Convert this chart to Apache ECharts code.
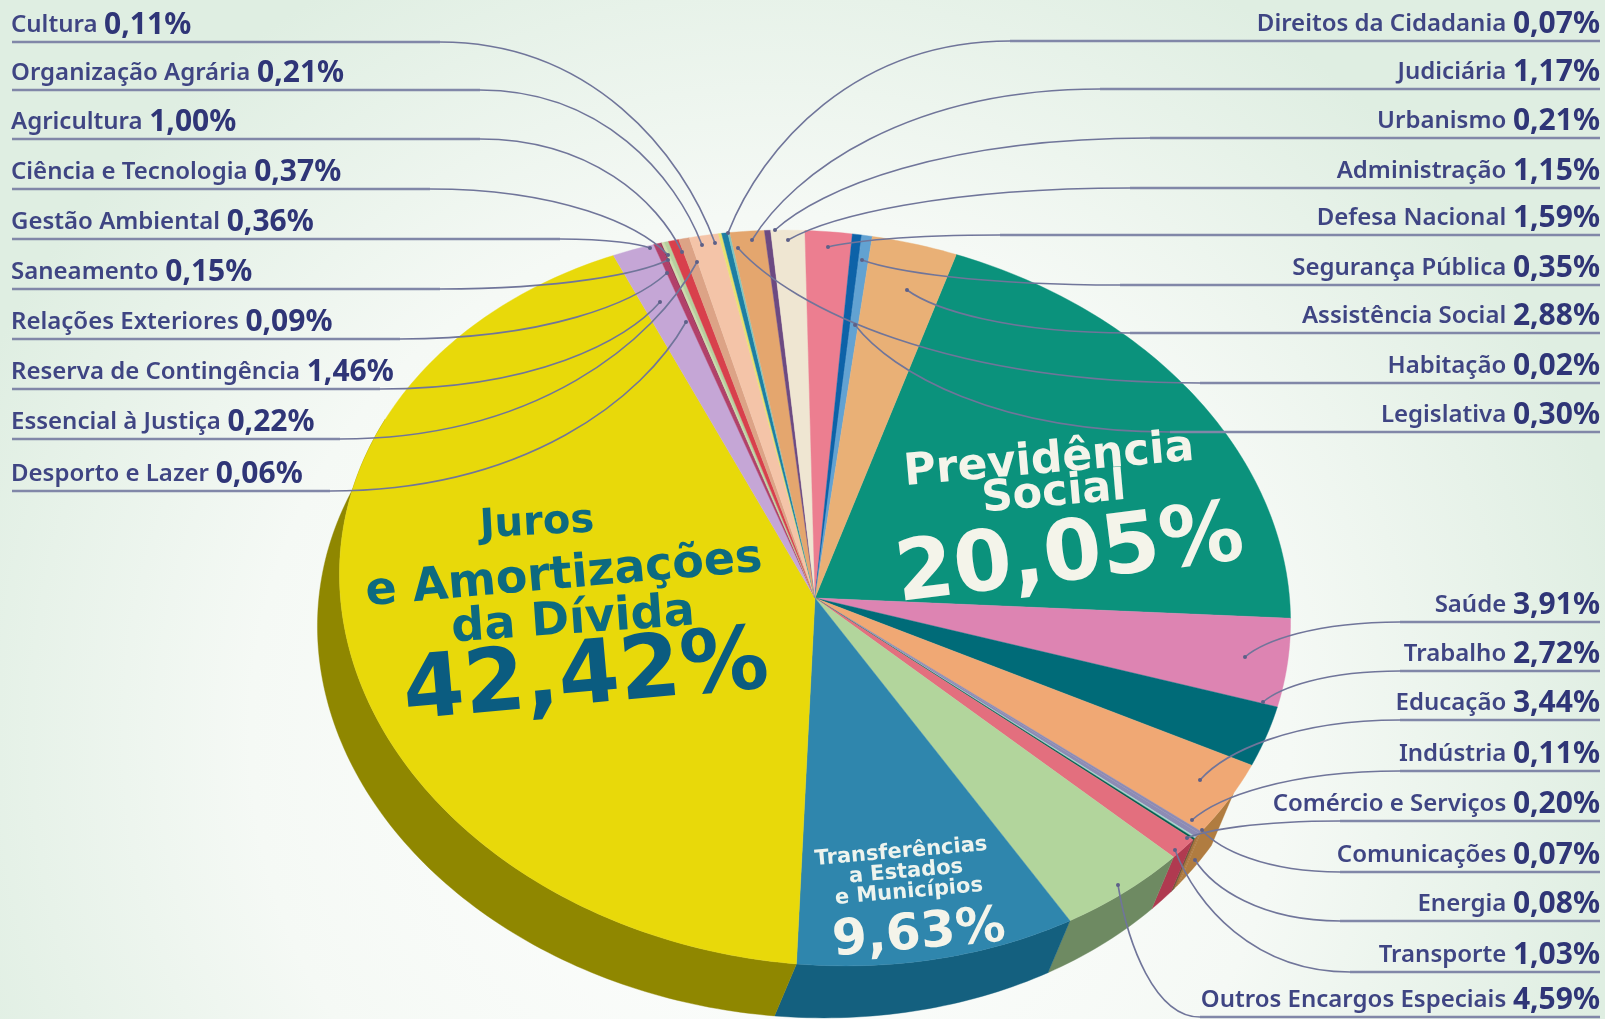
<!DOCTYPE html>
<html>
<head>
<meta charset="utf-8">
<title>Orçamento</title>
<style>
  html, body { margin: 0; padding: 0; background: #fff; }
  #chart { width: 1605px; height: 1019px; }
</style>
<script src="https://cdn.jsdelivr.net/npm/echarts@6/dist/echarts.min.js"></script>
</head>
<body>
<div id="chart"></div>
<script>
// slices, clockwise starting at Previdencia
const categories = ['Previdência Social', 'Saúde', 'Trabalho', 'Educação', 'Indústria', 'Comércio e Serviços',
  'Comunicações', 'Energia', 'Transporte', 'Outros Encargos Especiais', 'Transferências', 'Juros',
  'Reserva de Contingência', 'Essencial à Justiça', 'Desporto e Lazer', 'Relações Exteriores', 'Saneamento',
  'Gestão Ambiental', 'Ciência e Tecnologia', 'Agricultura', 'Cultura', 'Organização Agrária',
  'Direitos da Cidadania', 'Judiciária', 'Urbanismo', 'Administração', 'Defesa Nacional', 'Legislativa',
  'Habitação', 'Segurança Pública', 'Assistência Social'];
const values = [20.05, 3.91, 2.72, 3.44, 0.11, 0.20, 0.07, 0.08, 1.03, 4.59, 9.63, 42.42,
  1.46, 0.22, 0.06, 0.09, 0.15, 0.36, 0.37, 1.00, 0.11, 0.21, 0.07, 1.17, 0.21, 1.15, 1.59, 0.30, 0.02, 0.35, 2.88];
const sliceColors = ['#0b927c', '#dd84b2', '#006b78', '#f0a874', '#8d8bb4', '#8d8bb4', '#a5d2cc', '#00604f',
  '#e36f7e', '#b2d59c', '#2f86ad', '#e8d90a', '#c5a6d6', '#b2406a', '#9c3358', '#cfdcae', '#b7cf9e', '#d8404c',
  '#dca386', '#f4c4a8', '#e8e070', '#1c7ea3', '#82c6c0', '#e4a66e', '#6c4a82', '#efe6d2', '#ec7e90', '#0d62a8',
  '#0d62a8', '#62a2d2', '#e9b076'];
const wallColors = ['#075f50', '#8c4f70', '#004650', '#b07c40', '#b07c40', '#a8743c', '#806038', '#5c4a30',
  '#b03a50', '#6e8a62', '#14607f', '#8f8700', '#6a5878', '#6a2a40', '#6a2a40', '#707a50', '#707a50', '#80252c',
  '#80604c', '#907060', '#80803c', '#0c4a60', '#4c7470', '#80603c', '#3c2a48', '#807a70', '#804650', '#083a60',
  '#083a60', '#3a6078', '#806038'];

// label columns, top to bottom
const leftLabels = ['Cultura', 'Organização Agrária', 'Agricultura', 'Ciência e Tecnologia', 'Gestão Ambiental',
  'Saneamento', 'Relações Exteriores', 'Reserva de Contingência', 'Essencial à Justiça', 'Desporto e Lazer'];
const rightLabels = ['Direitos da Cidadania', 'Judiciária', 'Urbanismo', 'Administração', 'Defesa Nacional',
  'Segurança Pública', 'Assistência Social', 'Habitação', 'Legislativa', 'Saúde', 'Trabalho', 'Educação', 'Indústria',
  'Comércio e Serviços', 'Comunicações', 'Energia', 'Transporte', 'Outros Encargos Especiais'];

// layout only: rule y, where the rule starts to bend, and where the leader lands (px)
const leftRuleY = [42, 90, 139, 189, 239, 289, 339, 389, 439, 491];
const leftTurnX = [440, 480, 480, 430, 560, 440, 400, 380, 340, 330];
const leftEnds = [[715, 243], [702, 245], [682, 252], [668, 255], [650, 248], [668, 260], [667, 273], [660, 302], [697, 262], [686, 322]];
const rightRuleY = [41, 89, 138, 188, 235, 285, 333, 383, 432, 622, 671, 720, 771, 821, 872, 921, 972, 1017];
const rightTurnX = [1010, 1100, 1150, 1130, 1000, 1120, 1130, 1200, 1170, 1400, 1400, 1400, 1400, 1340, 1340, 1340, 1350, 1200];
const rightEnds = [[728, 233], [752, 240], [775, 230], [788, 240], [828, 247], [862, 260], [907, 290], [738, 248], [855, 325],
  [1245, 657], [1263, 702], [1200, 780], [1192, 820], [1187, 838], [1202, 830], [1195, 860], [1175, 850], [1118, 885]];

const startAngle = 11.9;   // degrees clockwise from top, where Previdencia starts
const tilt = 7 * Math.PI / 180;
const wallShift = [-22, 52];
const wallFrom = 113, wallTo = 290;
const total = values.reduce((a, b) => a + b, 0);

function fmt(name) {
  return values[categories.indexOf(name)].toFixed(2).replace('.', ',') + '%';
}

function sliceRange(i) {
  let from = startAngle;
  for (let k = 0; k < i; k++) from += values[k] / total * 360;
  return [from, from + values[i] / total * 360];
}

// point on the disc through the hidden axes, then tilted round the centre
function project(api, deg, r) {
  const t = deg * Math.PI / 180;
  const c = api.coord([0, 0]);
  const p = api.coord([r * Math.sin(t), r * Math.cos(t)]);
  const dx = p[0] - c[0], dy = p[1] - c[1];
  return [c[0] + dx * Math.cos(tilt) - dy * Math.sin(tilt), c[1] + dx * Math.sin(tilt) + dy * Math.cos(tilt)];
}

function renderTop(params, api) {
  const i = params.dataIndex;
  const [a, b] = sliceRange(i);
  const pts = [project(api, 0, 0)];
  const steps = Math.max(2, Math.ceil(b - a));
  for (let s = 0; s <= steps; s++) pts.push(project(api, a + (b - a) * s / steps, 1));
  return {
    type: 'polygon',
    shape: { points: pts },
    style: { fill: sliceColors[i], stroke: sliceColors[i], lineWidth: 0.4 }
  };
}

function renderWall(params, api) {
  const i = params.dataIndex;
  const [ra, rb] = sliceRange(i);
  let a = Math.max(ra, wallFrom), b = Math.min(rb, wallTo);
  if (a >= b) return null;
  const steps = Math.max(2, Math.ceil(b - a));
  const top = [], low = [];
  for (let s = 0; s <= steps; s++) {
    const p = project(api, a + (b - a) * s / steps, 1);
    top.push(p);
    low.unshift([p[0] + wallShift[0], p[1] + wallShift[1]]);
  }
  return {
    type: 'polygon',
    shape: { points: top.concat(low) },
    style: { fill: wallColors[i], stroke: wallColors[i], lineWidth: 0.4 }
  };
}

const textRich = {
  n: { fontFamily: 'Noto Sans', fontSize: 24, fontWeight: 600, fill: '#3f4583' },
  v: { fontFamily: 'Noto Sans', fontSize: 30, fontWeight: 700, fill: '#2f3577' }
};

function leaderItem(name, ruleY, turnX, end, side) {
  const edge = side === 'left' ? 12 : 1600;
  const dx = end[0] - turnX;
  return {
    type: 'group',
    children: [
      { type: 'line', shape: { x1: edge, y1: ruleY, x2: turnX, y2: ruleY }, style: { stroke: '#8187a8', lineWidth: 2.6 } },
      {
        type: 'bezierCurve',
        shape: {
          x1: turnX, y1: ruleY,
          cpx1: turnX + dx * 0.55, cpy1: ruleY,
          cpx2: end[0] - dx * 0.12, cpy2: end[1] + (ruleY - end[1]) * 0.45,
          x2: end[0], y2: end[1]
        },
        style: { stroke: '#70759a', lineWidth: 1.6, fill: null }
      },
      { type: 'circle', shape: { cx: end[0], cy: end[1], r: 2 }, style: { fill: '#5d6088' } },
      {
        type: 'text',
        style: {
          x: side === 'left' ? 11 : 1600,
          y: ruleY - 17,
          align: side,
          verticalAlign: 'middle',
          text: '{n|' + name + '}  {v|' + fmt(name) + '}',
          rich: textRich
        }
      }
    ]
  };
}

function inner(text, x, y, size, color, deg) {
  return {
    type: 'text',
    x: x, y: y,
    rotation: deg * Math.PI / 180,
    z: 30,
    style: {
      text: text,
      fill: color,
      align: 'center',
      verticalAlign: 'middle',
      fontFamily: 'DejaVu Sans',
      fontSize: size,
      fontWeight: 700
    }
  };
}

const chart = echarts.init(document.getElementById('chart'), null, { renderer: 'canvas' });
const sliceData = values.map(v => [v]);
const rowCount = leftLabels.length + rightLabels.length;

chart.setOption({
  animation: false,
  backgroundColor: {
    type: 'radial', x: 0.48, y: 0.72, r: 0.85,
    colorStops: [
      { offset: 0, color: '#ffffff' },
      { offset: 0.6, color: '#f5f9f5' },
      { offset: 1, color: '#dfeee2' }
    ]
  },
  grid: { left: 338, top: 232, width: 954, height: 732 },
  xAxis: { type: 'value', min: -1, max: 1, show: false },
  yAxis: { type: 'value', min: -1, max: 1, show: false },
  graphic: [
    inner('Juros', 537, 524, 40, '#0d6a80', 3),
    inner('e Amortizações', 564, 576, 46, '#0d6a80', 5),
    inner('da Dívida', 573, 621, 46, '#0d6a80', 4),
    inner(fmt('Juros'), 586, 680, 88, '#0b5c80', 5),
    inner('Previdência', 1049, 461, 44, '#f4f4ea', 5),
    inner('Social', 1054, 494, 43, '#f4f4ea', 5),
    inner(fmt('Previdência Social'), 1070, 558, 84, '#f4f4ea', 7),
    inner('Transferências', 901, 852, 21, '#eef4ee', 5),
    inner('a Estados', 906, 872, 21, '#eef4ee', 5),
    inner('e Municípios', 909, 892, 21, '#eef4ee', 5),
    inner(fmt('Transferências'), 919, 935, 50, '#f4f4ea', 5)
  ],
  series: [
    {
      type: 'custom', coordinateSystem: 'cartesian2d', clip: false, z: 2, silent: true,
      data: sliceData, renderItem: renderWall
    },
    {
      type: 'custom', coordinateSystem: 'cartesian2d', clip: false, z: 3, silent: true,
      data: sliceData, renderItem: renderTop
    },
    {
      type: 'custom', coordinateSystem: 'none', z: 10, silent: true,
      data: new Array(rowCount).fill(0).map((_, i) => [i]),
      renderItem: function (params) {
        const i = params.dataIndex;
        if (i < leftLabels.length) return leaderItem(leftLabels[i], leftRuleY[i], leftTurnX[i], leftEnds[i], 'left');
        const k = i - leftLabels.length;
        return leaderItem(rightLabels[k], rightRuleY[k], rightTurnX[k], rightEnds[k], 'right');
      }
    }
  ]
});
</script>
</body>
</html>
